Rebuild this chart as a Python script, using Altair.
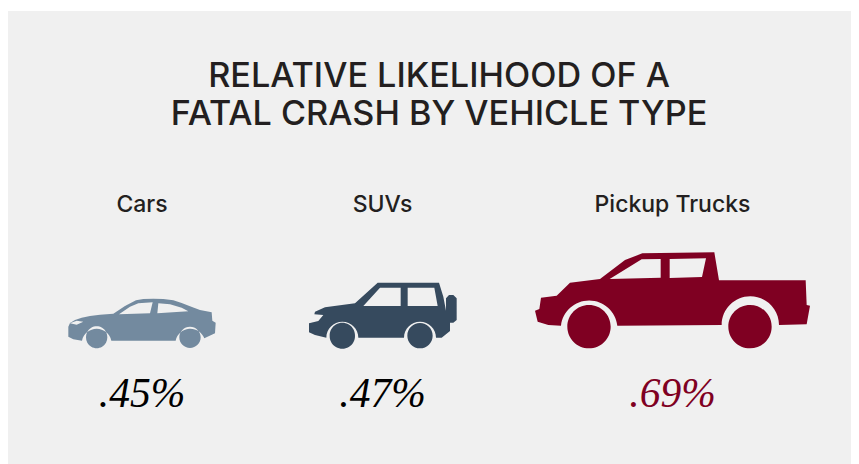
import altair as alt

categories = ["Cars", "SUVs", "Pickup Trucks"]
value_labels = [".45%", ".47%", ".69%"]
title_lines = ["RELATIVE LIKELIHOOD OF A", "FATAL CRASH BY VEHICLE TYPE"]
colors = ["#738a9f", "#364a5e", "#7f0022"]
value_colors = ["#000000", "#000000", "#7f0022"]

W, H = 843, 456
CX = [134, 374.5, 664.5]      # icon / label centres in the plot
ICON_Y = 312


def build(outline, holes, wheels, wheel_r, ox, oy, cx, cy, factor=3.0):
    """Icon outlines traced on a 3x grid. Turned into symbol-path units (1 unit = 1px at size 4)."""
    def P(p):
        return f"{(ox + p[0] / factor - cx):.2f},{(oy + p[1] / factor - cy):.2f}"

    d = []
    first = True
    for item in outline:
        if item[0] == "A":
            r = item[1] / factor
            d.append(f"A{r:.2f},{r:.2f} 0 0 1 {P(item[2])}")
        else:
            d.append(("M" if first else "L") + P(item))
        first = False
    d.append("Z")
    for h in holes:
        d.append("M" + P(h[0]) + "".join("L" + P(q) for q in h[1:]) + "Z")
    for wx, wy in wheels:
        r = wheel_r / factor
        a, b = (wx - wheel_r, wy), (wx + wheel_r, wy)
        d.append(f"M{P(a)}A{r:.2f},{r:.2f} 0 1 1 {P(b)}A{r:.2f},{r:.2f} 0 1 1 {P(a)}Z")
    return "".join(d)


car = build(
    [(55, 140), (55, 170), (70, 178), (96, 182), ("A", 45, (184, 182)), (377, 182),
     ("A", 45, (463, 175)), (495, 160), (497, 128), (487, 122), (485, 97), (450, 90),
     (420, 79), (395, 69), (370, 61), (340, 57), (310, 56), (280, 57), (258, 61),
     (225, 78), (190, 101), (150, 104), (120, 108), (95, 113), (75, 120), (60, 129)],
    [[(207, 103), (240, 80), (265, 70), (308, 67), (300, 100)],
     [(325, 70), (322, 100), (415, 94), (395, 83), (360, 73)][::-1],
     [(60, 130), (80, 122), (100, 125), (80, 134)]],
    [(140, 172), (420, 172)], 32, 50, 280, CX[0] + 8, ICON_Y + 8)

suv = build(
    [(42, 160), (42, 187), (60, 195), (94, 203), ("A", 48, (190, 203)), (327, 203),
     ("A", 48, (423, 203)), (440, 203), (465, 183), (465, 158), (475, 158), (485, 150),
     (485, 85), (475, 75), (462, 75), (453, 85), (453, 122), (445, 80), (432, 38), (248, 38),
     (180, 100), (90, 112), (60, 125), (58, 133), (85, 135), (70, 153)],
    [[(205, 108), (255, 53), (317, 53), (317, 108)],
     [(338, 53), (418, 53), (428, 108), (338, 108)]],
    [(142, 197), (375, 197)], 38, 295, 270, CX[1] + 8, ICON_Y + 8)

pickup = build(
    [(30, 212), (38, 245), (70, 255), (108, 257), ("A", 85, (277, 257)), (590, 255),
     ("A", 85, (762, 255)), (845, 253), (855, 197), (845, 195), (842, 121), (582, 121),
     (568, 37), (352, 40), (300, 60), (225, 117), (135, 128), (95, 167), (48, 173), (43, 207)],
    [[(254, 117), (350, 58), (407, 57), (407, 113)],
     [(434, 57), (543, 55), (531, 111), (434, 114)]],
    [(192, 260), (675, 260)], 65, 525, 240, CX[2] + 8, ICON_Y + 8)

icon_paths = [car, suv, pickup]

rows = [
    {"category": c, "value": v}
    for c, v in zip(categories, value_labels)
]
centre_expr = "{" + ",".join(f"'{c}':{x}" for c, x in zip(categories, CX)) + "}[datum.category]"
base = alt.Chart(alt.Data(values=rows)).transform_calculate(cx=centre_expr)
x_enc = alt.X("cx:Q", scale=None, axis=None)

panel = alt.Chart(alt.Data(values=[{"a": 1}])).mark_rect(color="#f0f0f0").encode(
    x=alt.value(-1), x2=alt.value(W), y=alt.value(3), y2=alt.value(H)
)

labels = base.mark_text(
    font="Inter", fontSize=23, fontWeight=500, color="#231f20",
    align="center", baseline="alphabetic",
).encode(x=x_enc, y=alt.value(204), text="category:N")

icons = base.mark_point(filled=True, opacity=1, size=4, strokeWidth=0).encode(
    x=x_enc,
    y=alt.value(ICON_Y),
    shape=alt.Shape("category:N", scale=alt.Scale(domain=categories, range=icon_paths), legend=None),
    color=alt.Color("category:N", scale=alt.Scale(domain=categories, range=colors), legend=None),
)

values = base.mark_text(
    font="Liberation Serif", fontSize=41.5, fontStyle="italic",
    align="center", baseline="alphabetic",
).encode(
    x=x_enc,
    y=alt.value(399),
    text="value:N",
    color=alt.Color("category:N", scale=alt.Scale(domain=categories, range=value_colors), legend=None),
)

chart = (
    alt.layer(panel, labels, icons, values)
    .resolve_scale(color="independent")
    .properties(
        width=W,
        height=H,
        padding=0,
        background="#ffffff",
        autosize=alt.AutoSizeParams(type="none"),
        title=alt.TitleParams(
            text=title_lines,
            anchor="middle",
            frame="group",
            font="Inter",
            fontSize=34.2,
            fontWeight=500,
            color="#231f20",
            lineHeight=38,
            offset=-124,
            dx=9.5,
        ),
    )
    .configure_view(stroke=None)
)

chart.save("out.html", embed_options={"renderer": "svg", "actions": False})
